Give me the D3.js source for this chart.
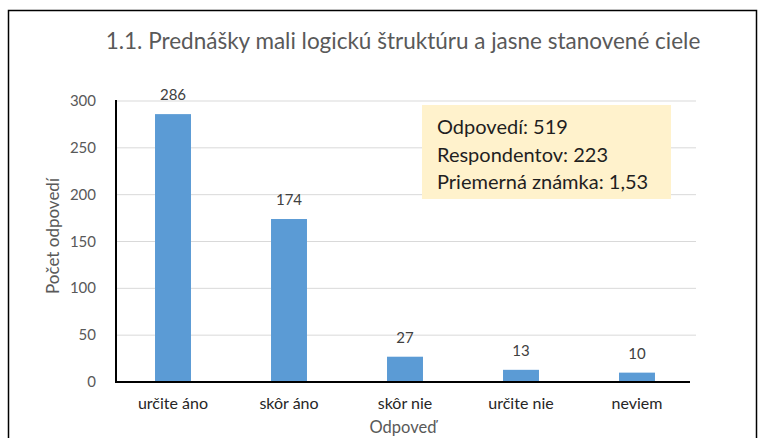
<!DOCTYPE html>
<html>
<head>
<meta charset="utf-8">
<script src="https://cdn.jsdelivr.net/npm/d3@7"></script>
<style>
  body { margin: 0; background: #fff; }
  text { font-family: Lato, "Open Sans", sans-serif; }
</style>
</head>
<body>
<div id="chart"></div>
<script>
var categories = ["určite áno", "skôr áno", "skôr nie", "určite nie", "neviem"];
var values = [286, 174, 27, 13, 10];
var yTicks = [0, 50, 100, 150, 200, 250, 300];
var infoLines = ["Odpovedí: 519", "Respondentov: 223", "Priemerná známka: 1,53"];
var title = "1.1. Prednášky mali logickú štruktúru  a jasne stanovené ciele";

var svg = d3.select("#chart").append("svg")
    .attr("width", 762)
    .attr("height", 438);

// frame
svg.append("rect")
    .attr("x", 8.5).attr("y", 10.5)
    .attr("width", 748).attr("height", 440)
    .attr("fill", "#fff")
    .attr("stroke", "#000")
    .attr("stroke-width", 1.5);

var x = d3.scaleBand()
    .domain(categories)
    .range([115, 695])
    .paddingInner(0.69)
    .paddingOuter(0.345);

var y = d3.scaleLinear()
    .domain([0, 300])
    .range([382, 101]);

// gridlines
svg.selectAll(".grid")
    .data(yTicks.filter(function(d){ return d > 0; }))
    .enter().append("line")
    .attr("x1", 116).attr("x2", 696)
    .attr("y1", function(d){ return y(d); })
    .attr("y2", function(d){ return y(d); })
    .attr("stroke", "#d9d9d9")
    .attr("stroke-width", 1);

// y tick labels
svg.selectAll(".ytick")
    .data(yTicks)
    .enter().append("text")
    .attr("x", 96)
    .attr("y", function(d){ return y(d) + 5; })
    .attr("text-anchor", "end")
    .attr("font-size", 15)
    .attr("fill", "#595959")
    .text(function(d){ return d; });

// bars
svg.selectAll(".bar")
    .data(values)
    .enter().append("rect")
    .attr("x", function(d, i){ return x(categories[i]); })
    .attr("y", function(d){ return y(d); })
    .attr("width", x.bandwidth())
    .attr("height", function(d){ return y(0) - y(d); })
    .attr("fill", "#5b9bd5");

// value labels
svg.selectAll(".val")
    .data(values)
    .enter().append("text")
    .attr("x", function(d, i){ return x(categories[i]) + x.bandwidth() / 2; })
    .attr("y", function(d){ return y(d) - 14; })
    .attr("text-anchor", "middle")
    .attr("font-size", 15)
    .attr("fill", "#404040")
    .text(function(d){ return d; });

// axes lines
svg.append("line")
    .attr("x1", 116).attr("x2", 116)
    .attr("y1", 100).attr("y2", 383)
    .attr("stroke", "#000").attr("stroke-width", 2);
svg.append("line")
    .attr("x1", 115).attr("x2", 690)
    .attr("y1", 382).attr("y2", 382)
    .attr("stroke", "#000").attr("stroke-width", 2);

// x tick labels
svg.selectAll(".xtick")
    .data(categories)
    .enter().append("text")
    .attr("x", function(d){ return x(d) + x.bandwidth() / 2; })
    .attr("y", 409)
    .attr("text-anchor", "middle")
    .attr("font-size", 16)
    .attr("fill", "#262626")
    .text(function(d){ return d; });

// axis titles
svg.append("text")
    .attr("x", 403).attr("y", 433)
    .attr("text-anchor", "middle")
    .attr("font-size", 16.5)
    .attr("fill", "#595959")
    .text("Odpoveď");

svg.append("text")
    .attr("transform", "translate(59,236) rotate(-90)")
    .attr("text-anchor", "middle")
    .attr("font-size", 17)
    .attr("fill", "#595959")
    .text("Počet odpovedí");

// title
svg.append("text")
    .attr("x", 403).attr("y", 49)
    .attr("text-anchor", "middle")
    .attr("font-size", 22.5)
    .attr("fill", "#595959")
    .text(title);

// info box
svg.append("rect")
    .attr("x", 422).attr("y", 105)
    .attr("width", 249).attr("height", 94)
    .attr("fill", "#fff2cc");

svg.selectAll(".info")
    .data(infoLines)
    .enter().append("text")
    .attr("x", 437)
    .attr("y", function(d, i){ return 134 + i * 27.5; })
    .attr("font-size", 20)
    .attr("fill", "#1f1f1f")
    .text(function(d){ return d; });
</script>
</body>
</html>
